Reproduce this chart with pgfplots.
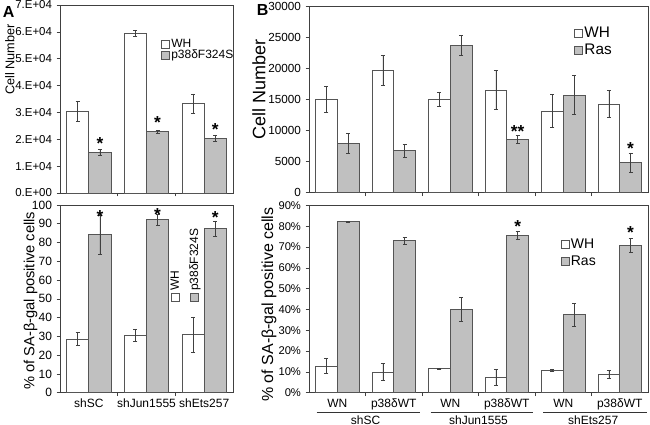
\documentclass[border=0pt]{standalone}
\usepackage{pgfplots}
\pgfplotsset{compat=1.18}
\usepackage{fontspec}
\setmainfont{Liberation Sans}
\setsansfont{Liberation Sans}
\definecolor{barg}{RGB}{192,192,192}
\definecolor{edge}{RGB}{85,85,85}
\newcommand{\fs}[1]{\fontsize{#1}{#1}\selectfont}
\setlength{\fboxsep}{0pt}
\setlength{\fboxrule}{0.6pt}
\newcommand{\lsq}[1]{\fcolorbox{edge}{#1}{\rule{0pt}{5.6pt}\hspace{5.6pt}}}

\pgfplotsset{
  panel/.style={
    scale only axis, anchor=south west, ybar, ymin=0, clip=false,
    axis line style={black!75, line width=0.6pt},
    tick style={black!75, line width=0.5pt},
    tick align=outside, major tick length=2.5pt,
    xtick pos=bottom, ytick pos=left,
    scaled y ticks=false,
    legend cell align=left,
    legend style={draw=none, fill=none, nodes={inner sep=1pt}},
    ylabel style={anchor=center},
    extra x tick style={tick style={draw=none}},
  },
  bars/.style={draw=edge, line width=0.6pt, bar width=0.385,
    error bars/.cd, y dir=both, y explicit,
    error bar style={line width=0.5pt, black!75},
    error mark options={rotate=90, mark size=1.5pt, line width=0.5pt, black!75}},
  wbar/.style={fill=white, bar shift=-0.1925, forget plot, bars},
  gbar/.style={fill=barg, bar shift=0.1925, forget plot, bars},
  stars/.style={draw=none, fill=none, bar width=0.385, bar shift=0.1925, forget plot,
    nodes near coords, point meta=explicit symbolic,
    nodes near coords style={font=\bfseries\fs{#1}, inner sep=0pt, anchor=center, yshift=-2pt}},
  sq/.style={legend image code/.code={\draw[##1, line width=0.6pt] (0pt,-3pt) rectangle (6pt,3pt);}},
}

\begin{document}
\begin{tikzpicture}
\path[use as bounding box] (0,0) rectangle (487.5pt,318.75pt);

\node[font=\bfseries\fs{12}] at (6.5pt,310pt) {A};
\node[font=\bfseries\fs{12}] at (197pt,311pt) {B};

% ---------------- A top ----------------
\begin{axis}[panel, at={(45pt,174pt)}, width=129.75pt, height=141pt,
  xmin=-0.5, xmax=2.5, ymax=70000,
  xtick={0.5,1.5}, xticklabels={},
  ytick={0,10000,20000,30000,40000,50000,60000,70000},
  yticklabels={0.E+00,1.E+04,2.E+04,3.E+04,4.E+04,5.E+04,6.E+04,7.E+04},
  yticklabel style={font=\fs{8.6}},
  ylabel={Cell Number}, ylabel style={at={(axis description cs:-0.29,0.71)}, font=\fs{9.5}},
  legend style={at={(0.56,0.84)}, anchor=north west, font=\fs{9}, row sep=-2pt},
]
\addplot[wbar] coordinates {(0,30300) +- (0,3800) (1,59400) +- (0,1000) (2,33300) +- (0,3600)};
\addplot[gbar] coordinates {(0,15100) +- (0,1200) (1,22800) +- (0,500) (2,20400) +- (0,1200)};
\addplot[stars=13] coordinates {(0,19400) [*] (1,27200) [*] (2,24500) [*]};
\addlegendimage{sq, fill=white, draw=edge}\addlegendentry{WH}
\addlegendimage{sq, fill=barg, draw=edge}\addlegendentry{p38δF324S}
\end{axis}

% ---------------- A bottom ----------------
\begin{axis}[panel, at={(45pt,24.2pt)}, width=129.75pt, height=140.8pt,
  xmin=-0.5, xmax=2.5, ymax=100,
  xtick={0.5,1.5}, xticklabels={},
  extra x ticks={0,1,2}, extra x tick labels={shSC,shJun1555,shEts257},
  x tick label style={font=\fs{9}, inner ysep=2pt},
  ytick={0,10,20,30,40,50,60,70,80,90,100},
  yticklabels={0,10,20,30,40,50,60,70,80,90,100},
  yticklabel style={font=\fs{9}},
  ylabel={\% of SA-β-gal positive cells}, ylabel style={at={(axis description cs:-0.17,0.49)}, font=\fs{11}},
]
\addplot[wbar] coordinates {(0,28.6) +- (0,3.5) (1,30.7) +- (0,3.2) (2,30.9) +- (0,9.5)};
\addplot[gbar] coordinates {(0,84.1) +- (0,10.5) (1,92.1) +- (0,3) (2,87.5) +- (0,4)};
\addplot[stars=13] coordinates {(0,95.2) [*] (1,96.4) [*] (2,94.8) [*]};
\node[rotate=90, anchor=west, inner sep=0pt, font=\fs{9}] at (axis description cs:0.665,0.483) {\lsq{white}\,WH};
\node[rotate=90, anchor=west, inner sep=0pt, font=\fs{9}] at (axis description cs:0.78,0.483) {\lsq{barg}\,p38δF324S};
\end{axis}

% ---------------- B top ----------------
\begin{axis}[panel, at={(231.75pt,174.2pt)}, width=254.25pt, height=140pt,
  xmin=-0.5, xmax=5.5, ymax=30000,
  xtick={0.5,1.5,2.5,3.5,4.5}, xticklabels={},
  ytick={0,5000,10000,15000,20000,25000,30000},
  yticklabels={0,5000,10000,15000,20000,25000,30000},
  yticklabel style={font=\fs{8.8}},
  ylabel={Cell Number}, ylabel style={at={(axis description cs:-0.148,0.555)}, font=\fs{13.5}},
  legend style={at={(0.77,0.91)}, anchor=north west, font=\fs{11.5}, row sep=1.5pt},
]
\addplot[wbar] coordinates {(0,15000) +- (0,2150) (1,19660) +- (0,2350) (2,15000) +- (0,1100) (3,16500) +- (0,3150) (4,13140) +- (0,2600) (5,14220) +- (0,2160)};
\addplot[gbar] coordinates {(0,7900) +- (0,1600) (1,6730) +- (0,1070) (2,23620) +- (0,1600) (3,8560) +- (0,600) (4,15700) +- (0,3180) (5,4810) +- (0,1600)};
\addplot[stars=13] coordinates {(3,10320) [**] (5,7530) [*]};
\addlegendimage{sq, fill=white, draw=edge}\addlegendentry{WH}
\addlegendimage{sq, fill=barg, draw=edge}\addlegendentry{Ras}
\end{axis}

% ---------------- B bottom ----------------
\begin{axis}[panel, at={(231.75pt,24.2pt)}, width=254.25pt, height=140.5pt,
  xmin=-0.5, xmax=5.5, ymax=90,
  xtick={0.5,1.5,2.5,3.5,4.5}, xticklabels={},
  x tick label style={font=\fs{9}, inner ysep=2pt},
  extra x ticks={0,1,2,3,4,5},
  extra x tick labels={WN,p38δWT,WN,p38δWT,WN,p38δWT},
  ytick={0,10,20,30,40,50,60,70,80,90},
  yticklabels={0\%,10\%,20\%,30\%,40\%,50\%,60\%,70\%,80\%,90\%},
  yticklabel style={font=\fs{8.4}},
  ylabel={\% of SA-β-gal positive cells}, ylabel style={at={(axis description cs:-0.118,0.47)}, font=\fs{12}},
  legend style={at={(0.73,0.845)}, anchor=north west, font=\fs{10.5}, row sep=2pt},
]
\addplot[wbar] coordinates {(0,12.8) +- (0,3.6) (1,9.9) +- (0,4) (2,11.5) +- (0,0.4) (3,7.5) +- (0,3.8) (4,10.7) +- (0,0.4) (5,8.8) +- (0,2)};
\addplot[gbar] coordinates {(0,82.1) +- (0,0.3) (1,73.0) +- (0,1.8) (2,40.0) +- (0,5.8) (3,75.5) +- (0,2) (4,37.6) +- (0,5.5) (5,70.9) +- (0,3.3)};
\addplot[stars=13] coordinates {(3,81.2) [*] (5,78.3) [*]};
\addlegendimage{sq, fill=white, draw=edge}\addlegendentry{WH}
\addlegendimage{sq, fill=barg, draw=edge}\addlegendentry{Ras}
\draw[black!80, line width=0.75pt] ([yshift=-15pt]axis cs:-0.364,0) -- ([yshift=-15pt]axis cs:1.465,0);
\draw[black!80, line width=0.75pt] ([yshift=-15pt]axis cs:1.654,0) -- ([yshift=-15pt]axis cs:3.47,0);
\draw[black!80, line width=0.75pt] ([yshift=-15pt]axis cs:3.647,0) -- ([yshift=-15pt]axis cs:5.477,0);
\node[font=\fs{9}] at ([yshift=-20.5pt]axis cs:0.5,0) {shSC};
\node[font=\fs{9}] at ([yshift=-20.5pt]axis cs:2.5,0) {shJun1555};
\node[font=\fs{9}] at ([yshift=-20.5pt]axis cs:4.53,0) {shEts257};
\end{axis}
\end{tikzpicture}
\end{document}
